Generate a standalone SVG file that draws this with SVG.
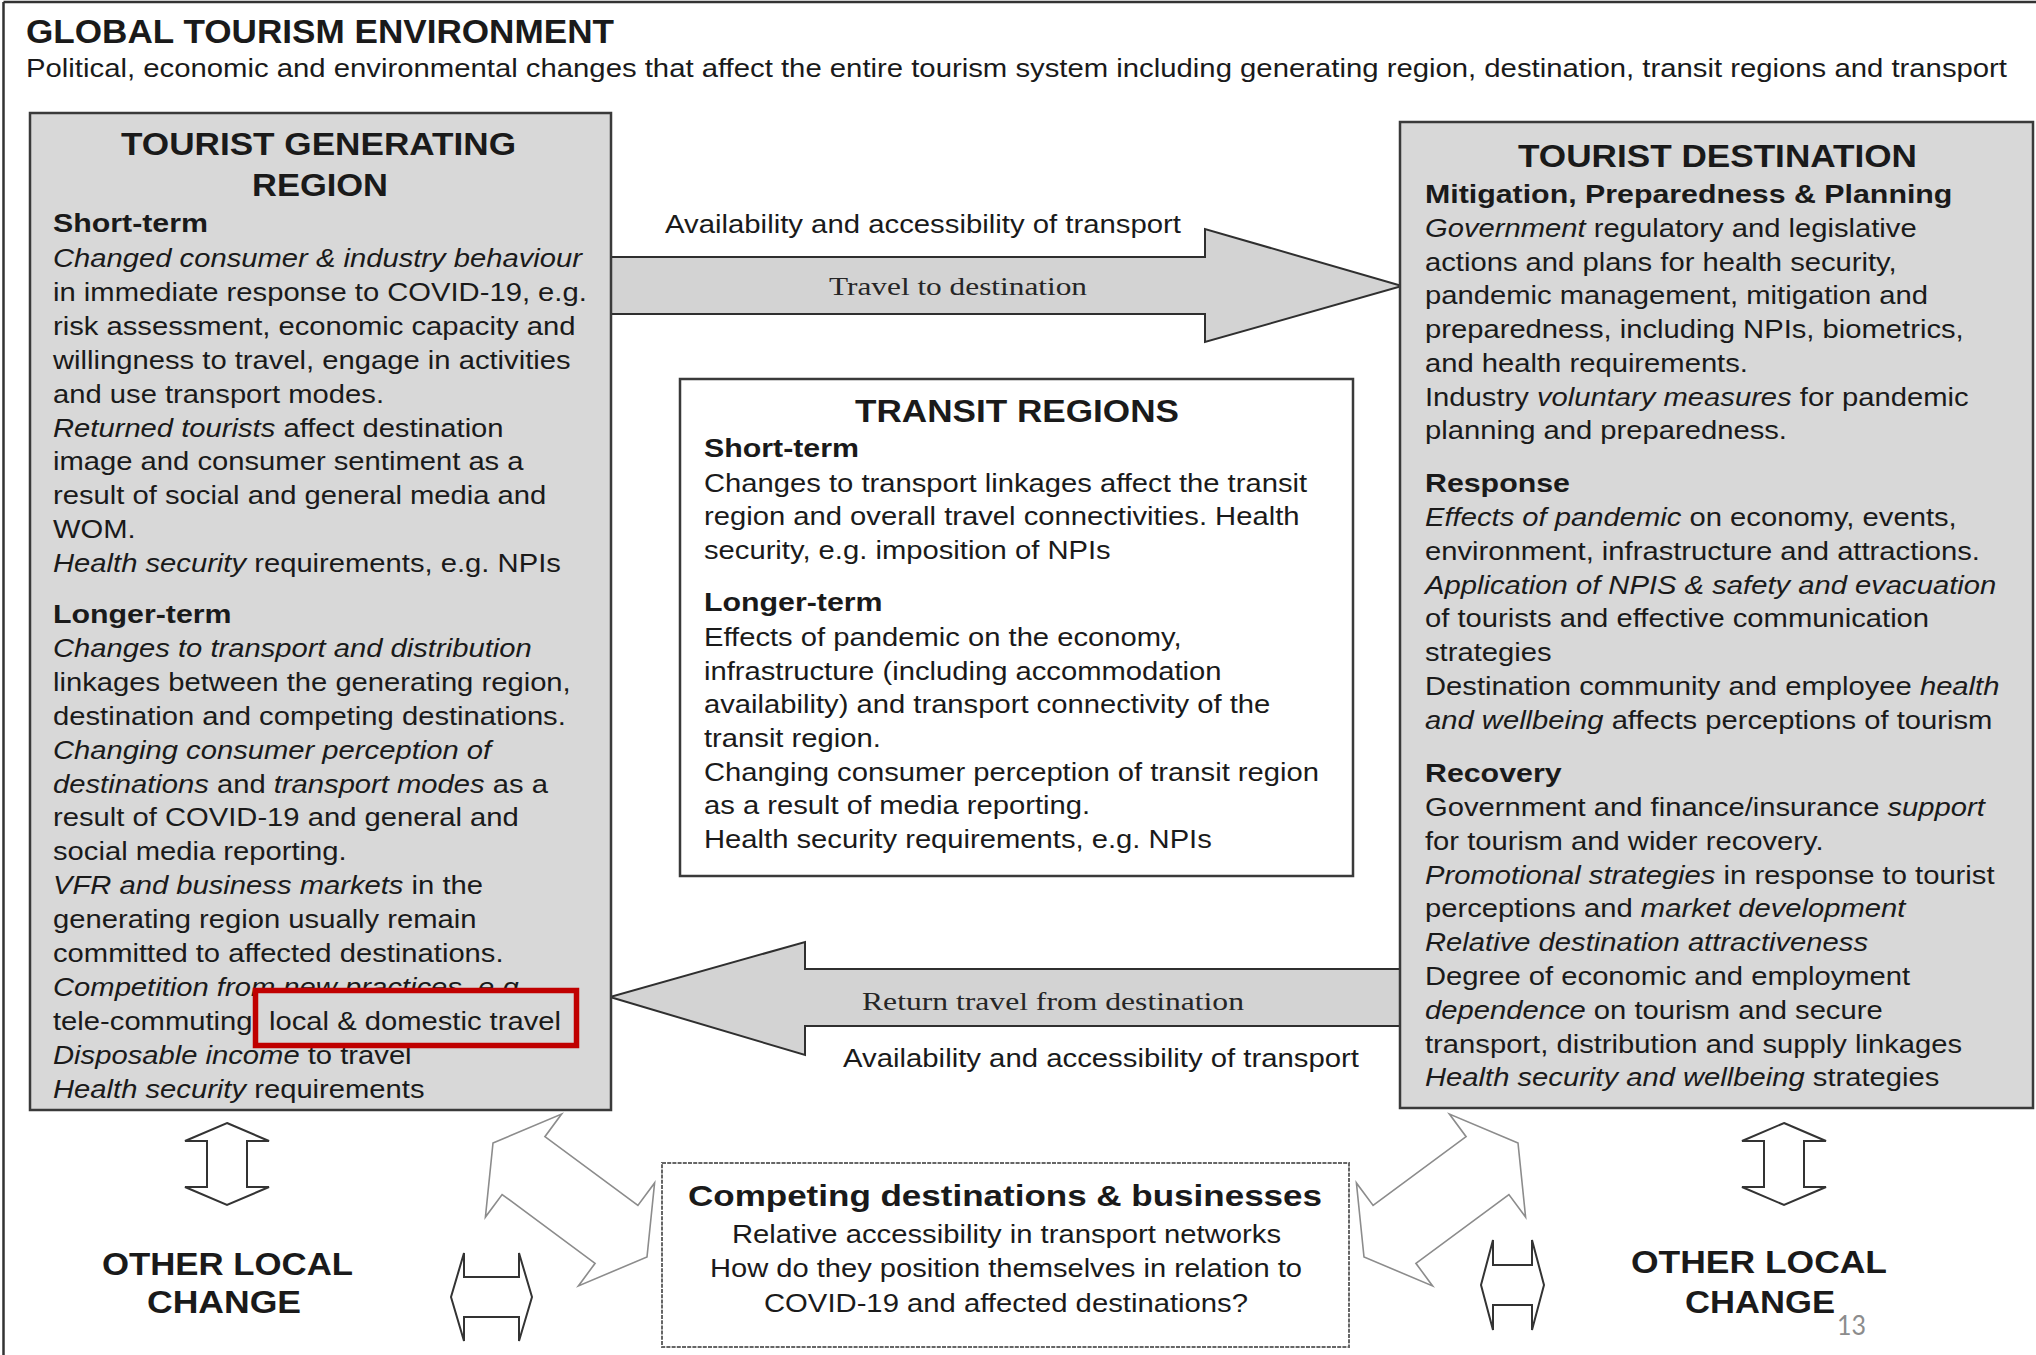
<svg xmlns="http://www.w3.org/2000/svg" width="2036" height="1355" viewBox="0 0 2036 1355">
<style>
.box{fill:#d8d8d8;stroke:#3a3a3a;stroke-width:2.5}
.wbox{fill:#ffffff;stroke:#3a3a3a;stroke-width:2.5}
.dbox{fill:#ffffff;stroke:#666;stroke-width:2;stroke-dasharray:4 1.2}
.t{font-family:"Liberation Sans",Arial,sans-serif;fill:#1a1a1a}
.b{font-size:25.5px}
.h{font-size:26.5px;font-weight:bold}
.ttl{font-size:31px;font-weight:bold}
.i{font-style:italic}
.big{fill:#d3d3d3;stroke:#2f2f2f;stroke-width:2}
.hollow{fill:#ffffff;stroke:#333;stroke-width:2}
.thin{fill:#ffffff;stroke:#8c8c8c;stroke-width:1.6}
.serif{font-family:"Liberation Serif","Times New Roman",serif;font-size:26px;fill:#262626}
</style>
<rect x="0" y="0" width="2036" height="1355" fill="#ffffff"/>
<g id="frame">
<line x1="3.5" y1="2" x2="2036" y2="2" stroke="#333" stroke-width="2.5"/>
<line x1="3.5" y1="2" x2="3.5" y2="1355" stroke="#333" stroke-width="2.5"/>
</g>
<g id="global-environment">
<text class="t" x="26" y="43" font-size="33" font-weight="bold" textLength="588" lengthAdjust="spacingAndGlyphs">GLOBAL TOURISM ENVIRONMENT</text>
<text class="t" x="26" y="77" font-size="26" textLength="1981" lengthAdjust="spacingAndGlyphs">Political, economic and environmental changes that affect the entire tourism system including generating region, destination, transit regions and transport</text>
</g>

<g id="connectors">
<polygon class="big" points="610,257 1205,257 1205,229 1402,286 1205,342 1205,314 610,314"/>
<text class="serif" x="829" y="295" textLength="258" lengthAdjust="spacingAndGlyphs">Travel to destination</text>
<text class="t b" x="665" y="233" textLength="516" lengthAdjust="spacingAndGlyphs">Availability and accessibility of transport</text>
<polygon class="big" points="1400,969 805,969 805,942 610,997 805,1055 805,1026 1400,1026"/>
<text class="serif" x="862" y="1010" textLength="382" lengthAdjust="spacingAndGlyphs">Return travel from destination</text>
<text class="t b" x="843" y="1067" textLength="516" lengthAdjust="spacingAndGlyphs">Availability and accessibility of transport</text>
<polygon id="diag-left" class="thin" points="493,1143 561.6,1114.1 544.9,1136.7 637.9,1205.5 654.6,1182.9 647,1257 578.4,1285.9 595.1,1263.3 502.1,1194.5 485.4,1217.1"/>
<polygon id="diag-right" class="thin" transform="translate(2011,0) scale(-1,1)" points="493,1143 561.6,1114.1 544.9,1136.7 637.9,1205.5 654.6,1182.9 647,1257 578.4,1285.9 595.1,1263.3 502.1,1194.5 485.4,1217.1"/>
<polygon id="vert-left" class="hollow" points="227,1123 269,1141 247,1141 247,1187 269,1187 227,1205 185,1187 207,1187 207,1141 185,1141"/>
<polygon id="vert-right" class="hollow" points="1784,1123 1826,1141 1804,1141 1804,1187 1826,1187 1784,1205 1742,1187 1764,1187 1764,1141 1742,1141"/>
<polygon id="horiz-left" class="hollow" points="451,1297 464,1253 464,1277 519,1277 519,1253 532,1297 519,1341 519,1317 464,1317 464,1341"/>
<polygon id="horiz-right" class="hollow" points="1481,1285 1493,1240 1493,1265 1532,1265 1532,1240 1544,1285 1532,1330 1532,1305 1493,1305 1493,1330"/>
</g>

<g id="node-generating">
<rect class="box" x="30" y="113" width="581" height="997"/>
<text class="t ttl" x="121" y="155" textLength="395" lengthAdjust="spacingAndGlyphs">TOURIST GENERATING</text>
<text class="t ttl" x="252" y="196" textLength="136" lengthAdjust="spacingAndGlyphs">REGION</text>
<g transform="matrix(1.145 0 0 1 -7.685 0)">
<text class="t h" x="53" y="232">Short-term</text>
<text class="t b i" x="53" y="267">Changed consumer &amp; industry behaviour</text>
<text class="t b" x="53" y="301">in immediate response to COVID-19, e.g.</text>
<text class="t b" x="53" y="335">risk assessment, economic capacity and</text>
<text class="t b" x="53" y="369">willingness to travel, engage in activities</text>
<text class="t b" x="53" y="403">and use transport modes.</text>
<text class="t b" x="53" y="437"><tspan class="i">Returned tourists</tspan> affect destination</text>
<text class="t b" x="53" y="470">image and consumer sentiment as a</text>
<text class="t b" x="53" y="504">result of social and general media and</text>
<text class="t b" x="53" y="538">WOM.</text>
<text class="t b" x="53" y="572"><tspan class="i">Health security</tspan> requirements, e.g. NPIs</text>
<text class="t h" x="53" y="623">Longer-term</text>
<text class="t b i" x="53" y="657">Changes to transport and distribution</text>
<text class="t b" x="53" y="691">linkages between the generating region,</text>
<text class="t b" x="53" y="725">destination and competing destinations.</text>
<text class="t b i" x="53" y="759">Changing consumer perception of</text>
<text class="t b" x="53" y="793"><tspan class="i">destinations</tspan> and <tspan class="i">transport modes</tspan> as a</text>
<text class="t b" x="53" y="826">result of COVID-19 and general and</text>
<text class="t b" x="53" y="860">social media reporting.</text>
<text class="t b" x="53" y="894"><tspan class="i">VFR and business markets</tspan> in the</text>
<text class="t b" x="53" y="928">generating region usually remain</text>
<text class="t b" x="53" y="962">committed to affected destinations.</text>
<text class="t b i" x="53" y="996">Competition from new practices, e.g.</text>
<text class="t b" x="53" y="1030">tele-commuting</text>
<text class="t b" x="53" y="1064"><tspan class="i">Disposable income</tspan> to travel</text>
<text class="t b" x="53" y="1098"><tspan class="i">Health security</tspan> requirements</text>
</g>
<rect x="255.5" y="990.5" width="321" height="55" fill="#d8d8d8" stroke="#c00000" stroke-width="5.5"/>
<text class="t b" x="269" y="1030" textLength="292" lengthAdjust="spacingAndGlyphs">local &amp; domestic travel</text>
</g>

<g id="node-transit">
<rect class="wbox" x="680" y="379" width="673" height="497"/>
<text class="t ttl" x="855" y="422" textLength="324" lengthAdjust="spacingAndGlyphs">TRANSIT REGIONS</text>
<g transform="matrix(1.145 0 0 1 -102.08 0)">
<text class="t h" x="704" y="457">Short-term</text>
<text class="t b" x="704" y="492">Changes to transport linkages affect the transit</text>
<text class="t b" x="704" y="525">region and overall travel connectivities. Health</text>
<text class="t b" x="704" y="559">security, e.g. imposition of NPIs</text>
<text class="t h" x="704" y="611">Longer-term</text>
<text class="t b" x="704" y="646">Effects of pandemic on the economy,</text>
<text class="t b" x="704" y="680">infrastructure (including accommodation</text>
<text class="t b" x="704" y="713">availability) and transport connectivity of the</text>
<text class="t b" x="704" y="747">transit region.</text>
<text class="t b" x="704" y="781">Changing consumer perception of transit region</text>
<text class="t b" x="704" y="814">as a result of media reporting.</text>
<text class="t b" x="704" y="848">Health security requirements, e.g. NPIs</text>
</g>
</g>

<g id="node-destination">
<rect class="box" x="1400" y="122" width="633" height="986"/>
<text class="t ttl" x="1518" y="167" textLength="399" lengthAdjust="spacingAndGlyphs">TOURIST DESTINATION</text>
<g transform="matrix(1.145 0 0 1 -206.625 0)">
<text class="t h" x="1425" y="203">Mitigation, Preparedness &amp; Planning</text>
<text class="t b" x="1425" y="237"><tspan class="i">Government</tspan> regulatory and legislative</text>
<text class="t b" x="1425" y="271">actions and plans for health security,</text>
<text class="t b" x="1425" y="304">pandemic management, mitigation and</text>
<text class="t b" x="1425" y="338">preparedness, including NPIs, biometrics,</text>
<text class="t b" x="1425" y="372">and health requirements.</text>
<text class="t b" x="1425" y="406">Industry <tspan class="i">voluntary measures</tspan> for pandemic</text>
<text class="t b" x="1425" y="439">planning and preparedness.</text>
<text class="t h" x="1425" y="492">Response</text>
<text class="t b" x="1425" y="526"><tspan class="i">Effects of pandemic</tspan> on economy, events,</text>
<text class="t b" x="1425" y="560">environment, infrastructure and attractions.</text>
<text class="t b i" x="1425" y="594">Application of NPIS &amp; safety and evacuation</text>
<text class="t b" x="1425" y="627">of tourists and effective communication</text>
<text class="t b" x="1425" y="661">strategies</text>
<text class="t b" x="1425" y="695">Destination community and employee <tspan class="i">health</tspan></text>
<text class="t b" x="1425" y="729"><tspan class="i">and wellbeing</tspan> affects perceptions of tourism</text>
<text class="t h" x="1425" y="782">Recovery</text>
<text class="t b" x="1425" y="816">Government and finance/insurance <tspan class="i">support</tspan></text>
<text class="t b" x="1425" y="850">for tourism and wider recovery.</text>
<text class="t b" x="1425" y="884"><tspan class="i">Promotional strategies</tspan> in response to tourist</text>
<text class="t b" x="1425" y="917">perceptions and <tspan class="i">market development</tspan></text>
<text class="t b i" x="1425" y="951">Relative destination attractiveness</text>
<text class="t b" x="1425" y="985">Degree of economic and employment</text>
<text class="t b" x="1425" y="1019"><tspan class="i">dependence</tspan> on tourism and secure</text>
<text class="t b" x="1425" y="1053">transport, distribution and supply linkages</text>
<text class="t b" x="1425" y="1086"><tspan class="i">Health security and wellbeing</tspan> strategies</text>
</g>
</g>

<g id="node-competing">
<rect class="dbox" x="662" y="1163" width="687" height="184"/>
<text class="t" x="688" y="1206" font-size="30" font-weight="bold" textLength="634" lengthAdjust="spacingAndGlyphs">Competing destinations &amp; businesses</text>
<text class="t b" x="732" y="1243" textLength="549" lengthAdjust="spacingAndGlyphs">Relative accessibility in transport networks</text>
<text class="t b" x="710" y="1277" textLength="592" lengthAdjust="spacingAndGlyphs">How do they position themselves in relation to</text>
<text class="t b" x="764" y="1312" textLength="484" lengthAdjust="spacingAndGlyphs">COVID-19 and affected destinations?</text>
</g>

<g id="node-other-local-left">
<text class="t" x="102" y="1275" font-size="31" font-weight="bold" textLength="251" lengthAdjust="spacingAndGlyphs">OTHER LOCAL</text>
<text class="t" x="147" y="1313" font-size="31" font-weight="bold" textLength="154" lengthAdjust="spacingAndGlyphs">CHANGE</text>
</g>
<g id="node-other-local-right">
<text class="t" x="1631" y="1273" font-size="31" font-weight="bold" textLength="256" lengthAdjust="spacingAndGlyphs">OTHER LOCAL</text>
<text class="t" x="1685" y="1313" font-size="31" font-weight="bold" textLength="150" lengthAdjust="spacingAndGlyphs">CHANGE</text>
</g>
<text id="page-number" x="1837" y="1335" font-family="Lato, 'Open Sans', sans-serif" font-size="26" fill="#8c8c8c" textLength="29" lengthAdjust="spacingAndGlyphs">13</text>
</svg>
